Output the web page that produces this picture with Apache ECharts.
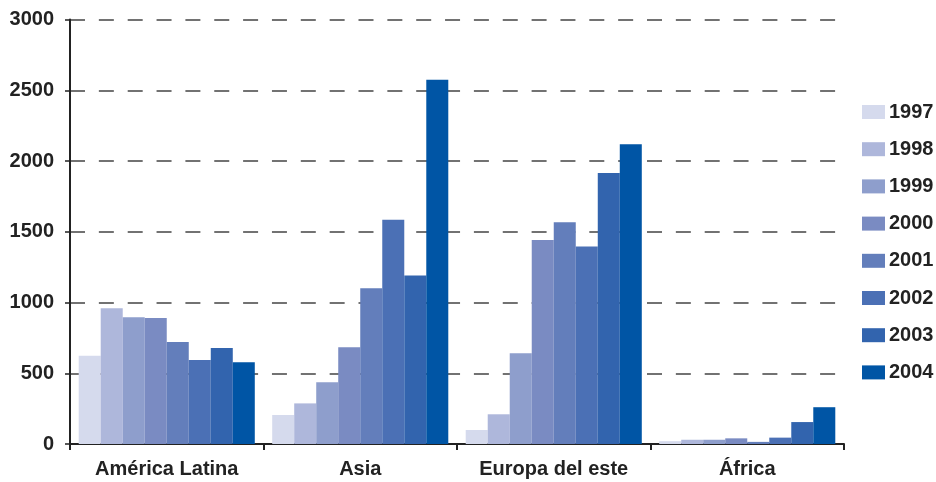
<!DOCTYPE html>
<html>
<head>
<meta charset="utf-8" />
<title>chart</title>
<script src="https://cdn.jsdelivr.net/npm/echarts@6/dist/echarts.min.js"></script>
<style>
  html, body { margin: 0; padding: 0; background: #fff; }
  #main { width: 936px; height: 482px; }
</style>
</head>
<body>
<div id="main"></div>
<script>
// categorias
var regiones = ["América Latina", "Asia", "Europa del este", "África"];
var anios = ["1997", "1998", "1999", "2000", "2001", "2002", "2003", "2004"];
var yTicks = [0, 500, 1000, 1500, 2000, 2500, 3000];

// valores por año (en el orden de regiones)
var v1997 = [623, 205, 99, 20];
var v1998 = [960, 287, 210, 30];
var v1999 = [895, 436, 641, 30];
var v2000 = [890, 683, 1442, 40];
var v2001 = [720, 1100, 1568, 15];
var v2002 = [593, 1584, 1396, 45];
var v2003 = [678, 1191, 1915, 155];
var v2004 = [577, 2575, 2118, 260];

var valores = [v1997, v1998, v1999, v2000, v2001, v2002, v2003, v2004];
var colores = ["#d5daed", "#aeb7db", "#8e9ecc", "#7a8bc2", "#637ebb", "#4b70b5", "#3264ae", "#0055a5"];

var myChart = echarts.init(document.getElementById("main"));

var series = anios.map(function (a, i) {
  return {
    name: a,
    type: "bar",
    data: valores[i],
    barGap: "0%",
    barCategoryGap: "9%",
    itemStyle: { color: colores[i] },
  };
});

var option = {
  animation: false,
  textStyle: { fontFamily: "Liberation Sans, Arial, sans-serif" },
  grid: {
    left: 70,
    right: 92,
    top: 19.5,
    bottom: 38,
  },
  legend: {
    orient: "vertical",
    left: 857,
    top: 97,
    itemWidth: 23,
    itemHeight: 14,
    itemGap: 17.2,
    icon: "rect",
    data: anios,
    textStyle: {
      color: "#222",
      fontSize: 20,
      fontWeight: "bold",
      lineHeight: 20,
      padding: [0, 0, 0, -1],
    },
  },
  xAxis: {
    type: "category",
    data: regiones,
    axisLine: { lineStyle: { color: "#222", width: 2 } },
    axisTick: { show: true, interval: 0, length: 6, lineStyle: { color: "#222", width: 2 } },
    axisLabel: {
      interval: 0,
      color: "#222",
      fontSize: 20,
      fontWeight: "bold",
      margin: 15,
    },
  },
  yAxis: {
    type: "value",
    min: yTicks[0],
    max: yTicks[yTicks.length - 1],
    interval: 500,
    axisLine: { show: true, lineStyle: { color: "#222", width: 2 } },
    axisTick: { show: true, length: 5, lineStyle: { color: "#222", width: 1.5 } },
    axisLabel: {
      color: "#222",
      fontSize: 20,
      fontWeight: "bold",
      margin: 16,
      formatter: function (v) { return String(v); },
    },
    splitLine: {
      show: true,
      lineStyle: { color: "#444", width: 1.5, type: [15, 13.85] },
    },
  },
  series: series,
};

myChart.setOption(option);
</script>
</body>
</html>
